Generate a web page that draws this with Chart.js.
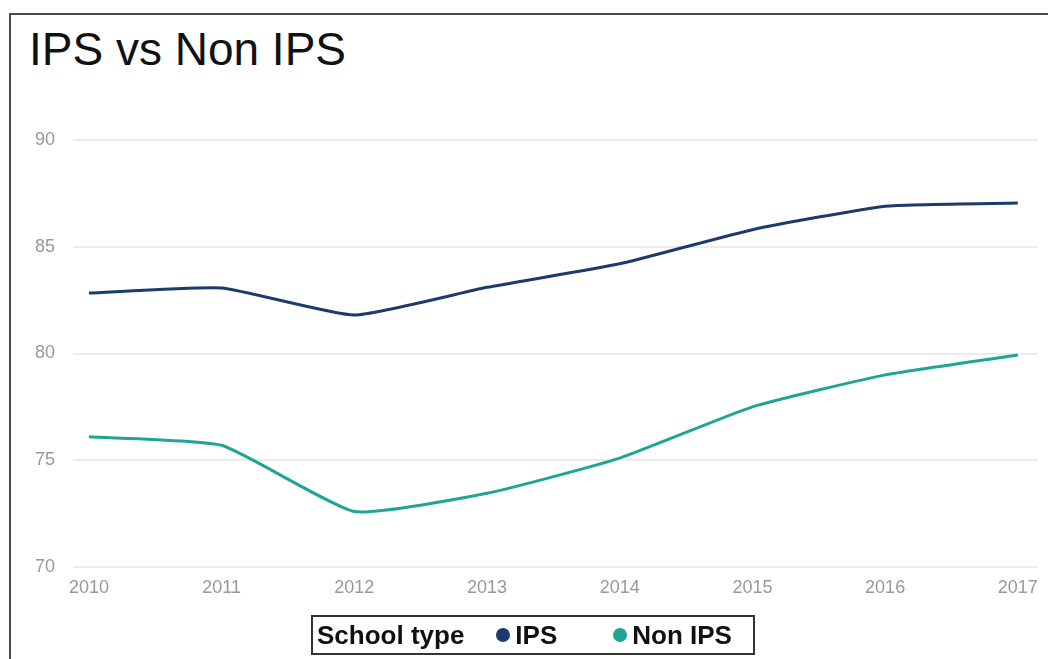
<!DOCTYPE html>
<html>
<head>
<meta charset="utf-8">
<script src="https://cdn.jsdelivr.net/npm/chart.js@4/dist/chart.umd.min.js"></script>
<style>
    body{margin:0;background:#fff;font-family:"Liberation Sans",Arial,sans-serif;}
    #marco{position:absolute;left:9px;top:13px;width:1100px;height:700px;border:2px solid #4a4a4a;}
    #titulo{position:absolute;left:29px;top:22px;font-size:46px;color:#111;white-space:nowrap;}
    #caja{position:absolute;left:0;top:0;width:1048px;height:659px;}
    #leyenda{position:absolute;left:311px;top:615px;width:440px;height:36px;border:2px solid #333;
        display:flex;align-items:center;font-size:26px;font-weight:bold;color:#111;box-sizing:content-box;white-space:nowrap;}
    #leyenda .t{margin-left:4px;margin-right:32px;}
    #leyenda .i{display:flex;align-items:center;margin-right:56px;}
    #leyenda .p{width:14px;height:14px;border-radius:50%;margin-right:5px;}
</style>
</head>
<body>
<div id="marco"></div>
<div id="titulo">IPS vs Non IPS</div>
<div id="caja"><canvas id="g_ips"></canvas></div>
<div id="leyenda"></div>
<script>
let anios = [2010, 2011, 2012, 2013, 2014, 2015, 2016, 2017];
let ips = [82.83, 83.07, 81.8, 83.1, 84.2, 85.8, 86.9, 87.05];
let non_ips = [76.1, 75.7, 72.6, 73.45, 75.1, 77.5, 79.0, 79.93];
let series = ["IPS", "Non IPS"];
let colores = ["#1d3a6c", "#1fa595"];
let ticks_y = [70, 75, 80, 85, 90];

function puntos(valores){
    return anios.map((a, i) => ({x: a, y: valores[i]}));
}

let ctx = document.getElementById("g_ips").getContext('2d');
let g = new Chart(ctx, {
    type: 'line',
    data: {
        datasets: [
            {label: series[0], data: puntos(ips), borderColor: colores[0], backgroundColor: colores[0]},
            {label: series[1], data: puntos(non_ips), borderColor: colores[1], backgroundColor: colores[1]}
        ]
    },
    options: {
        responsive: true,
        maintainAspectRatio: false,
        animation: false,
        elements: {
            line: {borderWidth: 3, tension: 0.15},
            point: {radius: 0}
        },
        plugins: {
            legend: {display: false},
            tooltip: {enabled: false}
        },
        layout: {
            padding: {top: 140, right: 8, bottom: 52, left: 0}
        },
        scales: {
            x: {
                type: 'linear',
                min: 2009.88,
                max: 2017.15,
                afterFit: function(s){ s.height = 40; },
                grid: {display: false, drawTicks: false},
                border: {display: false},
                ticks: {
                    stepSize: 1,
                    includeBounds: false,
                    padding: 10,
                    color: "#999999",
                    font: {family: "Liberation Sans", size: 18},
                    callback: function(v){ return anios.includes(v) ? String(v) : ""; }
                }
            },
            y: {
                min: ticks_y[0],
                max: ticks_y[ticks_y.length - 1],
                afterFit: function(s){ s.width = 73; },
                grid: {color: "#ececec", lineWidth: 2, drawTicks: false},
                border: {display: false},
                ticks: {
                    stepSize: 5,
                    padding: 18,
                    color: "#999999",
                    font: {family: "Liberation Sans", size: 18}
                }
            }
        }
    }
});

// leyenda con titulo al lado, como en el original
let ley = document.getElementById("leyenda");
ley.innerHTML = '<span class="t">School type</span>' + g.data.datasets.map(d =>
    '<span class="i"><span class="p" style="background:' + d.borderColor + '"></span>' + d.label + '</span>'
).join("");
</script>
</body>
</html>
